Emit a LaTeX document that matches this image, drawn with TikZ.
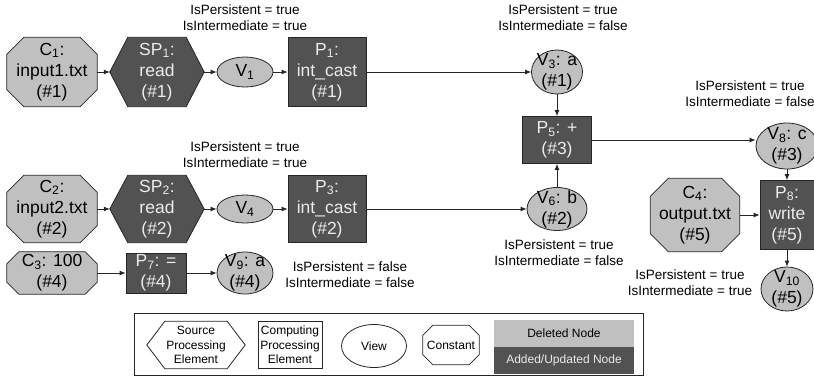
\documentclass[tikz,border=0pt]{standalone}
\usepackage{fontspec}
\setmainfont{Liberation Sans}
\usetikzlibrary{arrows.meta,backgrounds,shapes.geometric}
\definecolor{lgray}{HTML}{C0C0C0}
\definecolor{dgray}{HTML}{525252}
\definecolor{dtext}{HTML}{EBEBEB}
\definecolor{edge}{HTML}{262626}
\newcommand\octagonshape[3]{%
  \draw[#2] ([xshift=#3]#1.north west) -- ([xshift=-#3]#1.north east) -- ([yshift=-#3]#1.north east) -- ([yshift=#3]#1.south east) -- ([xshift=-#3]#1.south east) -- ([xshift=#3]#1.south west) -- ([yshift=#3]#1.south west) -- ([yshift=-#3]#1.north west) -- cycle;}
\newcommand\hexshape[3]{%
  \draw[#2] (#1.west) -- ([xshift=#3]#1.north west) -- ([xshift=-#3]#1.north east) -- (#1.east) -- ([xshift=-#3]#1.south east) -- ([xshift=#3]#1.south west) -- cycle;}
\begin{document}
\begin{tikzpicture}[x=1pt,y=-1pt,
  nf/.style={font=\fontsize{17.5}{21}\selectfont, align=center, inner sep=0pt},
  af/.style={font=\fontsize{13.5}{16}\selectfont, align=center, inner sep=0pt},
  lf/.style={font=\fontsize{12}{14.5}\selectfont, align=center, inner sep=0pt},
  sz/.style 2 args={minimum width=#1pt, minimum height=#2pt},
  light/.style={fill=lgray, draw=edge, line width=0.8pt},
  dark/.style={fill=dgray, draw=edge, line width=0.8pt},
  white shape/.style={fill=white, draw=edge, line width=0.8pt},
  procn/.style={nf, rectangle, dark, text=dtext},
  octn/.style={nf, rectangle, text=black},
  hexn/.style={nf, rectangle, text=dtext},
  viewn/.style={ellipse, light, inner sep=0pt},
  arr/.style={-{Latex[length=6pt,width=5pt]}, line width=0.8pt, draw=edge}
]
\useasboundingbox (0,0) rectangle (814,386);
\clip (0,0) rectangle (814,386);

% ---------- row 1
\node[octn, sz={90}{69}] (C1) at (52,72) {C\textsubscript{1}:\\input1.txt\\(\#1)};
\node[hexn, sz={94}{69}] (SP1) at (157,72) {SP\textsubscript{1}:\\read\\(\#1)};
\node[viewn, sz={56}{30}, label={[nf]center:V\textsubscript{1}}] (V1) at (245,72) {};
\node[procn, sz={78}{69}] (P1) at (327,72) {P\textsubscript{1}:\\int\_cast\\(\#1)};
\node[viewn, sz={51}{44}, label={[nf]center:V\textsubscript{3}: a\\(\#1)}] (V3) at (557,72) {};
\node[procn, sz={69}{47}] (P5) at (557,140) {P\textsubscript{5}: +\\(\#3)};
\node[viewn, sz={62}{46}, label={[nf]center:V\textsubscript{8}: c\\(\#3)}] (V8) at (787,146) {};

% ---------- row 2
\node[octn, sz={90}{67}] (C2) at (52,209) {C\textsubscript{2}:\\input2.txt\\(\#2)};
\node[hexn, sz={94}{67}] (SP2) at (157,209) {SP\textsubscript{2}:\\read\\(\#2)};
\node[viewn, sz={56}{28}, label={[nf]center:V\textsubscript{4}}] (V4) at (245,209) {};
\node[procn, sz={78}{67}] (P3) at (327,209) {P\textsubscript{3}:\\int\_cast\\(\#2)};
\node[viewn, sz={60}{43}, label={[nf]center:V\textsubscript{6}: b\\(\#2)}] (V6) at (557,209) {};
\node[octn, sz={89}{73}] (C4) at (695,215) {C\textsubscript{4}:\\output.txt\\(\#5)};
\node[procn, sz={54}{69}] (P8) at (787,215) {P\textsubscript{8}:\\write\\(\#5)};
\node[viewn, sz={52}{44}, label={[nf]center:V\textsubscript{10}\\(\#5)}] (V10) at (787,289) {};

% ---------- row 3
\node[octn, sz={90}{42}] (C3) at (52,273) {C\textsubscript{3}: 100\\(\#4)};
\node[procn, sz={60}{40}] (P7) at (156,273) {P\textsubscript{7}: =\\(\#4)};
\node[viewn, sz={56}{42}, label={[nf]center:V\textsubscript{9}: a\\(\#4)}] (V9) at (245,273) {};

% ---------- annotations
\node[af] (A1) at (245,18) {IsPersistent = true\\IsIntermediate = true};
\node[af] (A2) at (245,155) {IsPersistent = true\\IsIntermediate = true};
\node[af] (A3) at (563,18) {IsPersistent = true\\IsIntermediate = false};
\node[af] (A4) at (559,253) {IsPersistent = true\\IsIntermediate = false};
\node[af] (A5) at (750,94) {IsPersistent = true\\IsIntermediate = false};
\node[af] (A6) at (690,283) {IsPersistent = true\\IsIntermediate = true};
\node[af] (A7) at (350,275) {IsPersistent = false\\IsIntermediate = false};

% ---------- legend
\node[draw=edge, line width=0.8pt, sz={509}{62}] (legend) at (388.5,344) {};
\node[lf, rectangle, sz={98}{47}] (Lhex) at (196,345) {Source\\Processing\\Element};
\node[lf, rectangle, white shape, sz={64}{47}] (Lrect) at (290,345) {Computing\\Processing\\Element};
\node[lf, ellipse, white shape, sz={65}{43}] (Lview) at (374,346) {View};
\node[lf, rectangle, sz={56}{39}] (Lconst) at (451,345) {Constant};
\node[lf, rectangle, fill=lgray, sz={140}{27}] (Ldel) at (564,333.5) {Deleted Node};
\node[lf, rectangle, fill=dgray, text=dtext, sz={140}{27}] (Ladd) at (564,360.5) {Added/Updated Node};

% ---------- drawn outlines behind the texts
\begin{scope}[on background layer]
  \fill[white] (0,0) rectangle (814,386);
  \octagonshape{C1}{light}{17pt}
  \octagonshape{C2}{light}{17pt}
  \octagonshape{C4}{light}{18pt}
  \octagonshape{C3}{light}{12pt}
  \hexshape{SP1}{dark}{18pt}
  \hexshape{SP2}{dark}{18pt}
  \hexshape{Lhex}{white shape}{18pt}
  \octagonshape{Lconst}{white shape}{10pt}
\end{scope}

% ---------- connectors
\draw[arr] (C1) -- (SP1);
\draw[arr] (SP1) -- (V1);
\draw[arr] (V1) -- (P1);
\draw[arr] (P1) -- (V3);
\draw[arr] (V3) -- (P5);
\draw[arr] (V6) -- (P5);
\draw[arr] (P5.east) -- (P5.east -| V8.west);
\draw[arr] (V8) -- (P8);
\draw[arr] (C4) -- (P8);
\draw[arr] (P8) -- (V10);
\draw[arr] (C2) -- (SP2);
\draw[arr] (SP2) -- (V4);
\draw[arr] (V4) -- (P3);
\draw[arr] (P3) -- (V6);
\draw[arr] (C3) -- (P7);
\draw[arr] (P7) -- (V9);
\end{tikzpicture}
\end{document}
